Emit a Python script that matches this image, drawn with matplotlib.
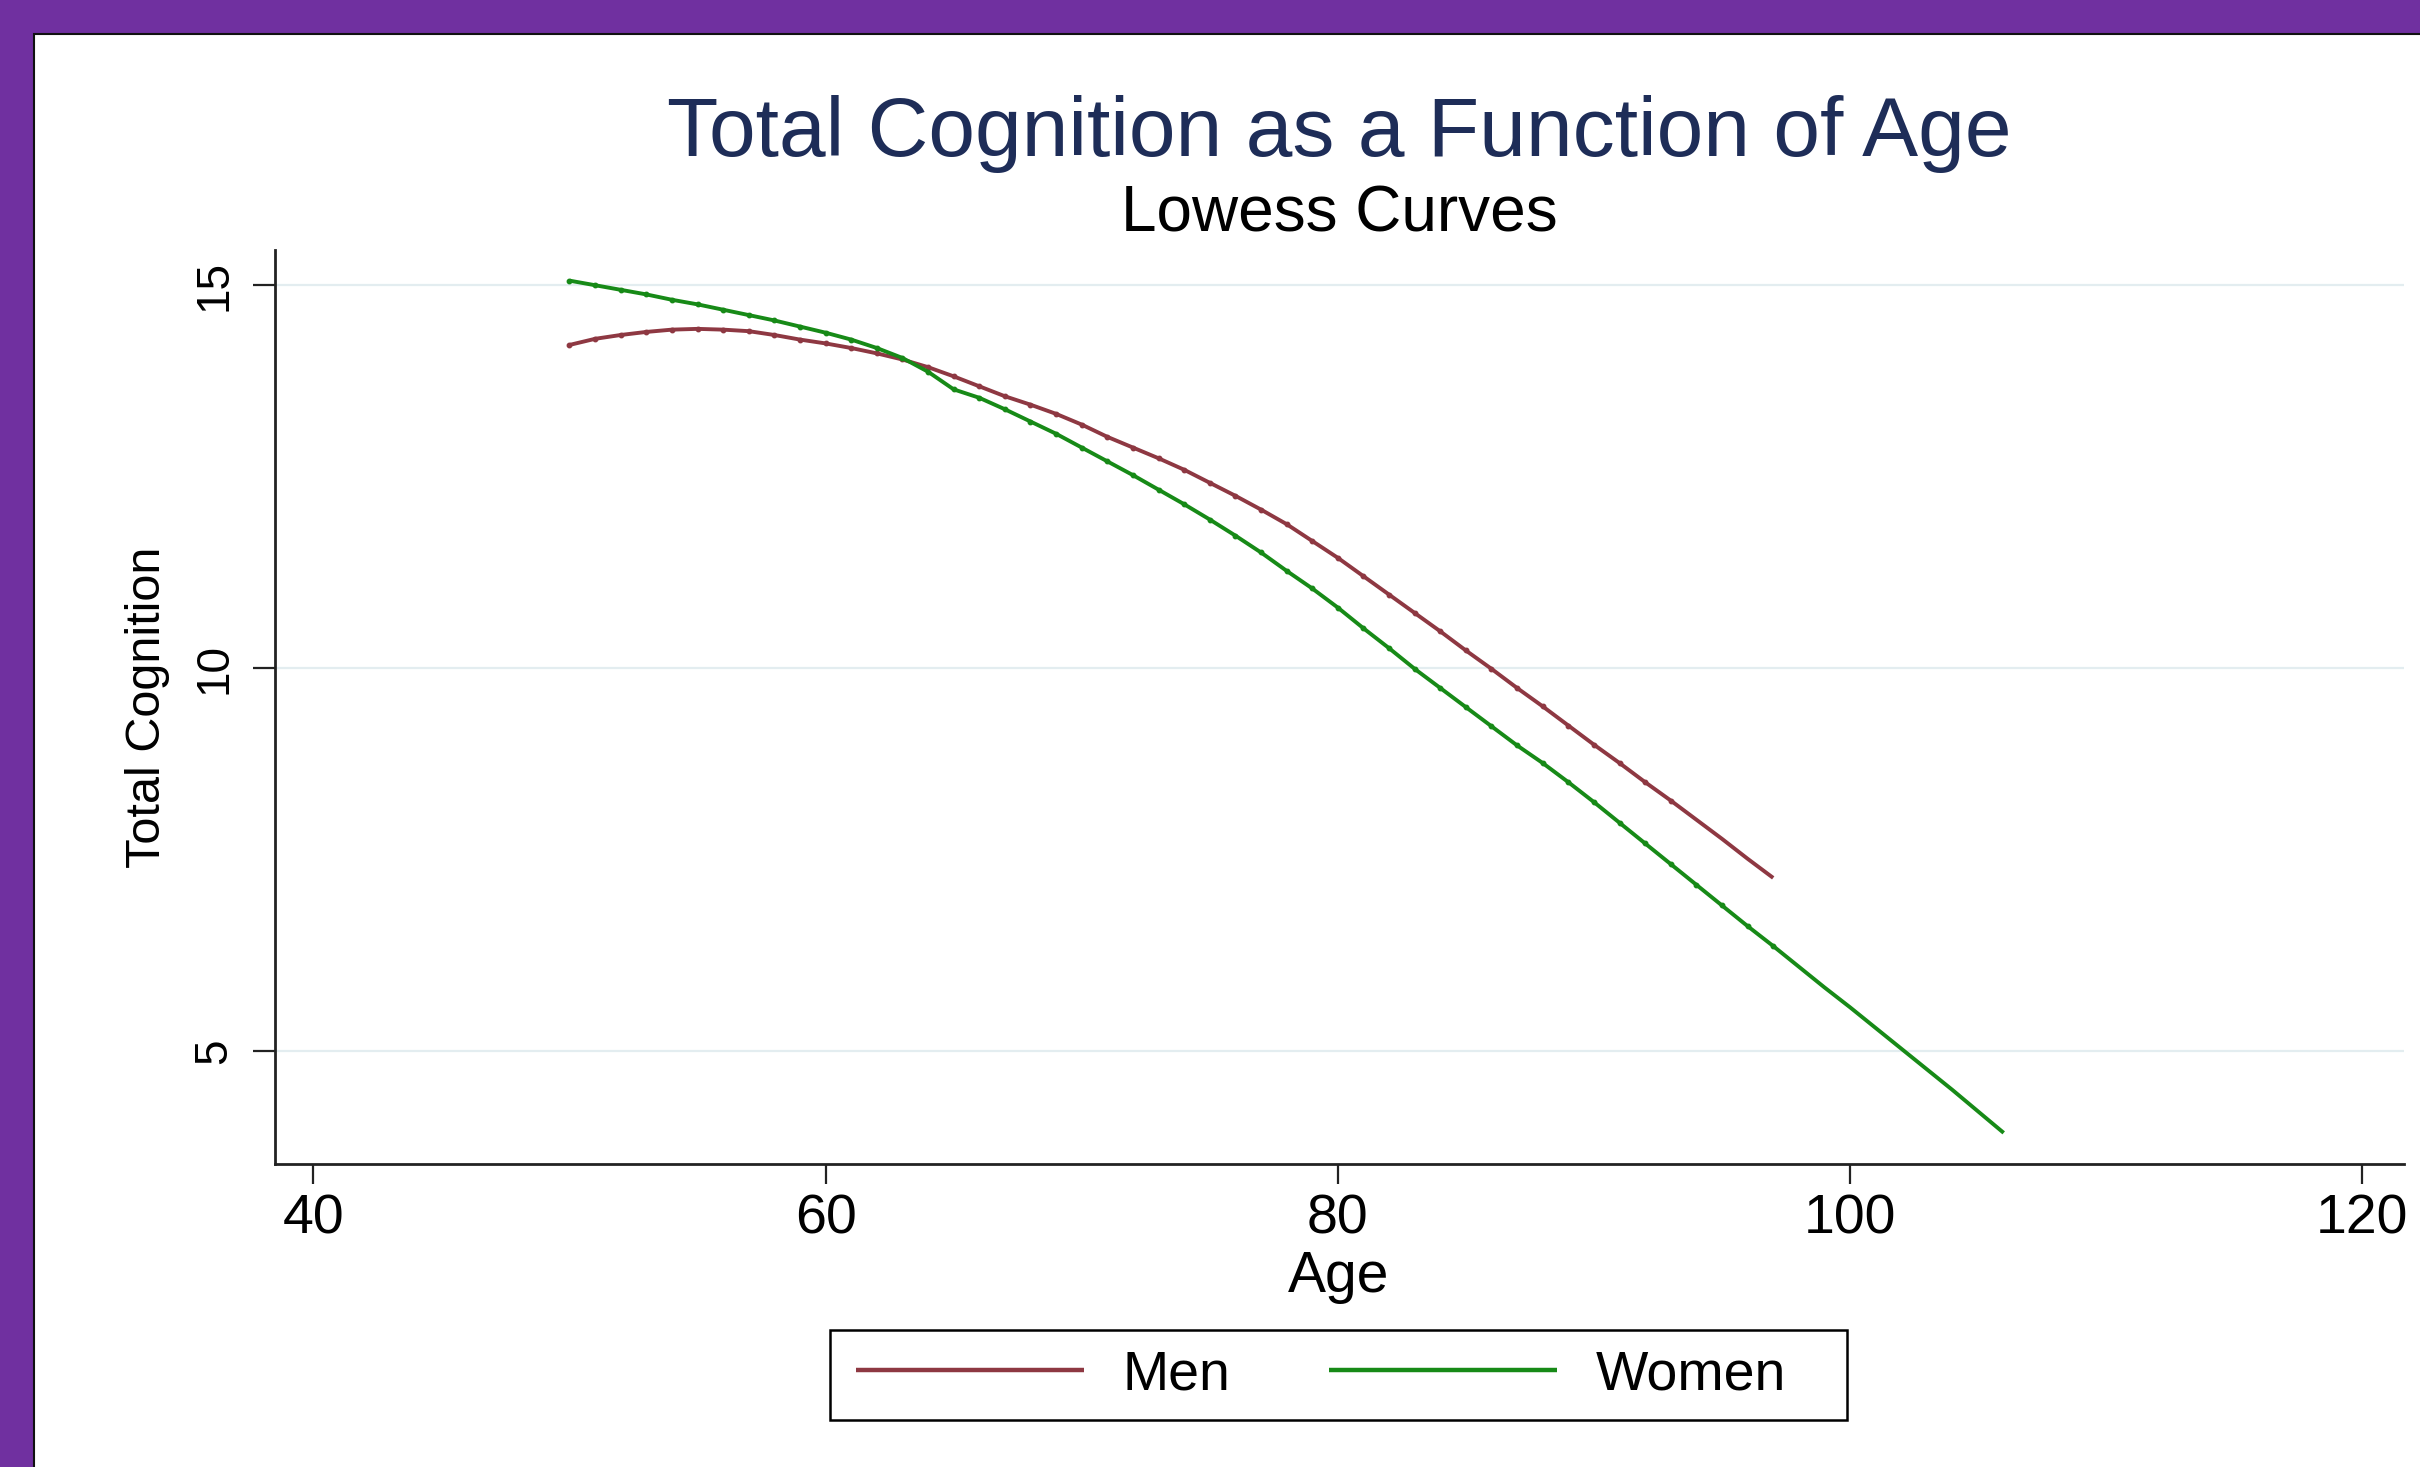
import matplotlib
matplotlib.use("Agg")
import matplotlib.pyplot as plt
from matplotlib.patches import Rectangle

plt.rcParams['font.family'] = ['Liberation Sans', 'DejaVu Sans']

# ---------------- data ----------------
men_age = list(range(50, 98))
men_cog = [14.22, 14.30, 14.35, 14.39, 14.42, 14.43, 14.42, 14.40, 14.35, 14.29,
           14.24, 14.18, 14.11, 14.03, 13.93, 13.81, 13.68, 13.55, 13.44, 13.32,
           13.18, 13.02, 12.88, 12.74, 12.59, 12.42, 12.25, 12.07, 11.88, 11.66,
           11.44, 11.20, 10.96, 10.72, 10.48, 10.23, 9.99, 9.74, 9.50, 9.25,
           9.00, 8.76, 8.51, 8.27, 8.02, 7.77, 7.51, 7.26]
women_age = list(range(50, 107))
women_cog = [15.06, 15.00, 14.94, 14.88, 14.81, 14.75, 14.68, 14.61, 14.54, 14.46,
             14.38, 14.29, 14.18, 14.05, 13.87, 13.64, 13.53, 13.38, 13.22, 13.06,
             12.88, 12.70, 12.52, 12.33, 12.14, 11.94, 11.73, 11.51, 11.27, 11.04,
             10.79, 10.52, 10.26, 9.99, 9.74, 9.49, 9.24, 8.99, 8.76, 8.51,
             8.25, 7.98, 7.71, 7.44, 7.17, 6.90, 6.63, 6.37, 6.10, 5.83,
             5.57, 5.30, 5.03, 4.76, 4.49, 4.21, 3.93]
x_ticks = [40, 60, 80, 100, 120]
y_ticks = [5, 10, 15]
series_labels = ["Men", "Women"]
title = "Total Cognition as a Function of Age"
subtitle = "Lowess Curves"
x_title = "Age"
y_title = "Total Cognition"

# ---------------- styles ----------------
W, H = 2420, 1467
DPI = 100
PURPLE = '#7030A0'
MEN_C = '#8E3842'
WOMEN_C = '#178A17'
TITLE_C = '#1E2D58'
GRID_C = '#E3EDF0'

fig = plt.figure(figsize=(W / DPI, H / DPI), dpi=DPI)
fig.patch.set_facecolor(PURPLE)

# white panel with thin dark edge
panel = Rectangle((34 / W, -0.01), 1.02, 1 - 34 / H + 0.01, transform=fig.transFigure,
                  facecolor='white', edgecolor='#111111', linewidth=1.5, zorder=-5)
fig.patches.append(panel)

ax = fig.add_axes([274.7 / W, 1 - 1163.5 / H, (2404 - 274.7) / W, (1163.5 - 250) / H])
ax.set_zorder(2)
ax.set_facecolor('white')

mk_men = [i for i, a in enumerate(men_age) if a <= 93]
mk_wom = [i for i, a in enumerate(women_age) if a <= 97]
l1, = ax.plot(men_age, men_cog, color=MEN_C, lw=2.8, marker='o', ms=3.2,
              markevery=mk_men, solid_capstyle='butt', zorder=3)
l2, = ax.plot(women_age, women_cog, color=WOMEN_C, lw=2.8, marker='o', ms=3.2,
              markevery=mk_wom, solid_capstyle='butt', zorder=4)

ax.set_xlim(38.49, 121.63)
ax.set_ylim(3.53, 15.46)
ax.set_xticks(x_ticks)
ax.set_yticks(y_ticks)
ax.set_xticklabels([str(t) for t in x_ticks])
ax.set_yticklabels([str(t) for t in y_ticks], rotation=90, va='center')

for s in ['top', 'right']:
    ax.spines[s].set_visible(False)
for s in ['left', 'bottom']:
    ax.spines[s].set_linewidth(2.0)
    ax.spines[s].set_color('#222222')

ax.tick_params(axis='x', length=14.4, width=1.6, color='#222222', pad=7, labelsize=40)
ax.tick_params(axis='y', length=15.6, width=1.6, color='#222222', pad=12, labelsize=33)

ax.grid(axis='y', color=GRID_C, lw=1.6, zorder=0)
ax.set_axisbelow(True)

# titles
fig.text(1339 / W, 1 - 156 / H, title, ha='center', va='baseline', fontsize=60.5, color=TITLE_C)
fig.text(1339 / W, 1 - 231 / H, subtitle, ha='center', va='baseline', fontsize=46, color='black')
fig.text(1339 / W, 1 - 1291.7 / H, x_title, ha='center', va='baseline', fontsize=41, color='black')
fig.text(160 / W, 1 - 707.5 / H, y_title, ha='center', va='baseline', rotation=90,
         rotation_mode='anchor', fontsize=35, color='black')

# legend box (drawn separately) and legend contents
box = Rectangle((830 / W, 1 - 1420 / H), (1847 - 830) / W, 90 / H, transform=fig.transFigure,
                facecolor='white', edgecolor='black', linewidth=1.8, zorder=1)
fig.patches.append(box)
leg = fig.legend([l1, l2], series_labels, loc='center left', ncol=2,
                 bbox_to_anchor=(856 / W, 1 - 1375 / H), bbox_transform=fig.transFigure,
                 fontsize=40, frameon=False, borderpad=0, handlelength=4.1,
                 handletextpad=0.7, columnspacing=1.78, borderaxespad=0)
for h in leg.legend_handles:
    h.set_marker('')
    h.set_linewidth(3.2)

fig.savefig('out.png', dpi=DPI, facecolor=fig.get_facecolor())
